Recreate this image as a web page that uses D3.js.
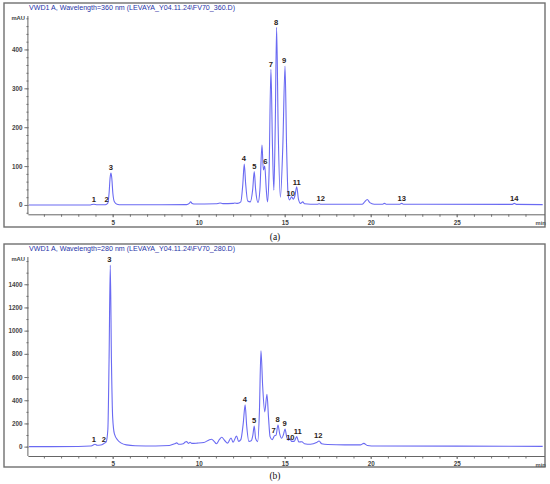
<!DOCTYPE html>
<html>
<head>
<meta charset="utf-8">
<script src="https://cdn.jsdelivr.net/npm/d3@7"></script>
<style>
    body { margin: 0; background: #fff; }
    svg { display: block; font-family: "Liberation Sans", Arial, sans-serif; }
</style>
</head>
<body>
<svg id="chart" width="550" height="484"></svg>
<script>
// chromatogram at 360 nm, [min, mAU]
var traceA = [
    [0, 0], [3.7, 0], [3.9, 2], [4.1, 0.5], [4.5, 0.5], [4.65, 2], [4.72, 5], [4.79, 30],
    [4.85, 70], [4.9, 82], [4.95, 68], [5.01, 30], [5.1, 8], [5.25, 2], [5.5, 0.5],
    [9.3, 1], [9.45, 4], [9.53, 8], [9.62, 4], [9.8, 2.5], [11.0, 3], [11.24, 5], [11.4, 3.5],
    [12.0, 4], [12.1, 5], [12.25, 4], [12.45, 8], [12.56, 50], [12.65, 105], [12.73, 55],
    [12.85, 10], [13.0, 8], [13.14, 40], [13.23, 86], [13.31, 40], [13.45, 6], [13.56, 40],
    [13.68, 154], [13.76, 90], [13.84, 100], [13.93, 40], [14.0, 8], [14.09, 80], [14.2, 349],
    [14.29, 150], [14.37, 38], [14.45, 200], [14.53, 457], [14.62, 200], [14.75, 20],
    [14.89, 150], [15.02, 357], [15.11, 150], [15.2, 25], [15.28, 13], [15.4, 21], [15.5, 15],
    [15.6, 25], [15.7, 47], [15.8, 15], [15.92, 4], [16.05, 8], [16.15, 3], [16.5, 2],
    [16.9, 2], [17.0, 3], [17.1, 2], [19.5, 2], [19.65, 8], [19.8, 14], [19.95, 6], [20.2, 2],
    [20.7, 2], [20.8, 4], [20.9, 2], [21.7, 2], [21.8, 4], [21.9, 2], [28.2, 1.5], [28.35, 4],
    [28.5, 1.5], [30, 1]
];
// peak number, min, mAU where the label sits
var peaksA = [
    ["1", 3.9, 7], ["2", 4.65, 7], ["3", 4.9, 90], ["4", 12.63, 112], ["5", 13.23, 92],
    ["6", 13.87, 106], ["7", 14.2, 356], ["8", 14.5, 462], ["9", 14.96, 365],
    ["10", 15.35, 24], ["11", 15.7, 52], ["12", 17.09, 9.5], ["13", 21.8, 9.5], ["14", 28.35, 9.5]
];

// chromatogram at 280 nm
var traceB = [
    [0, 0], [3.0, 1], [3.7, 5], [3.85, 12], [3.97, 20], [4.1, 12], [4.3, 14], [4.5, 28],
    [4.62, 40], [4.72, 150], [4.79, 750], [4.86, 1566], [4.93, 720], [5.0, 250], [5.1, 110],
    [5.3, 55], [5.5, 30], [5.8, 15], [6.3, 8], [7.5, 6], [8.3, 10], [8.6, 25], [8.72, 32],
    [8.85, 20], [9.1, 25], [9.22, 40], [9.3, 43], [9.4, 28], [9.5, 38], [9.6, 28], [9.9, 30],
    [10.3, 35], [10.6, 58], [10.75, 64], [10.9, 45], [11.03, 25], [11.2, 60], [11.34, 81],
    [11.5, 55], [11.68, 30], [11.88, 75], [12.0, 38], [12.2, 92], [12.32, 45], [12.45, 60],
    [12.59, 200], [12.7, 360], [12.79, 180], [12.92, 45], [13.05, 50], [13.15, 100],
    [13.23, 178], [13.31, 70], [13.43, 43], [13.53, 300], [13.62, 827], [13.72, 520],
    [13.84, 300], [13.97, 452], [14.06, 250], [14.15, 86], [14.27, 60], [14.4, 92],
    [14.5, 100], [14.61, 187], [14.71, 110], [14.82, 72], [14.92, 100], [15.02, 152],
    [15.12, 80], [15.22, 55], [15.3, 70], [15.4, 45], [15.55, 45], [15.7, 86], [15.82, 40],
    [16.0, 42], [16.15, 25], [16.5, 20], [16.85, 35], [17.0, 49], [17.15, 25], [17.5, 18],
    [18.5, 15], [19.4, 15], [19.6, 28], [19.8, 10], [20.3, 5], [25, 4], [30, 2]
];
var peaksB = [
    ["1", 3.91, 40], ["2", 4.49, 40], ["3", 4.8, 1592], ["4", 12.69, 385], ["5", 13.22, 204],
    ["7", 14.36, 118], ["8", 14.59, 215], ["9", 15.0, 181], ["10", 15.33, 55],
    ["11", 15.76, 112], ["12", 16.95, 72]
];

var xMajor = [5, 10, 15, 20, 25];
var xMinor = d3.range(1, 30);
var yMajorA = [0, 100, 200, 300, 400];
var yMinorA = d3.range(-20, 481, 20);
var yMajorB = [0, 200, 400, 600, 800, 1000, 1200, 1400];
var yMinorB = d3.range(0, 1601, 100);

var svg = d3.select("#chart");

function Panel(o) {
    var x = d3.scaleLinear().domain([0.1, 30]).range([28.4, 542.7]),
        y = d3.scaleLinear().domain(o.yDomain).range(o.yRange),
        bottom = o.yRange[0],
        top = o.yRange[1];

    var g = svg.append("g");

    // frame
    g.append("rect")
        .attr("x", 4).attr("y", o.frameY)
        .attr("width", 541).attr("height", o.frameH)
        .attr("fill", "none")
        .attr("stroke", "#707070")
        .attr("stroke-width", 1.4);

    g.append("text")
        .attr("x", 29).attr("y", o.frameY + 6.5)
        .attr("font-size", 7.1)
        .attr("fill", "#1f35a8")
        .text(o.title);

    // x axis
    g.append("g")
        .attr("transform", "translate(0," + bottom + ")")
        .call(d3.axisBottom(x).tickValues(xMinor).tickSize(2.5).tickSizeOuter(0).tickFormat(""))
        .call(function (s) { s.select(".domain").remove(); });
    var xa = g.append("g")
        .attr("transform", "translate(0," + bottom + ")")
        .call(d3.axisBottom(x).tickValues(xMajor).tickSize(3).tickSizeOuter(0).tickPadding(3).tickFormat(d3.format("d")));
    xa.selectAll("text").attr("font-size", 6.3).attr("font-weight", "bold").attr("fill", "#444").attr("font-family", null);
    xa.select(".domain").attr("d", "M28.4,0.5H545");

    g.append("text")
        .attr("x", 535.5).attr("y", bottom + 10.5)
        .attr("font-size", 5.8)
        .attr("font-weight", "bold")
        .attr("fill", "#555")
        .text("min");

    // y axis
    g.append("g")
        .attr("transform", "translate(28.4,0)")
        .call(d3.axisLeft(y).tickValues(o.yMinor).tickSize(2).tickSizeOuter(0).tickFormat(""))
        .call(function (s) { s.select(".domain").remove(); });
    var ya = g.append("g")
        .attr("transform", "translate(28.4,0)")
        .call(d3.axisLeft(y).tickValues(o.yMajor).tickSize(4).tickSizeOuter(0).tickPadding(2).tickFormat(d3.format("d")));
    ya.selectAll("text").attr("font-size", 6.3).attr("font-weight", "bold").attr("fill", "#444").attr("font-family", null);
    ya.select(".domain").attr("d", "M-0.5," + top + "V" + bottom);
    g.selectAll(".tick line").attr("stroke", "#777");
    g.selectAll(".domain").attr("stroke", "#666");

    g.append("text")
        .attr("x", 25).attr("y", top + 4)
        .attr("text-anchor", "end")
        .attr("font-size", 5.8)
        .attr("font-weight", "bold")
        .attr("fill", "#444")
        .text("mAU");

    // trace
    var clipId = "clip" + o.frameY;
    g.append("clipPath").attr("id", clipId)
        .append("rect")
        .attr("x", 29).attr("y", top - 6)
        .attr("width", 515).attr("height", bottom - top + 5);

    var line = d3.line()
        .x(function (d) { return x(d[0]); })
        .y(function (d) { return y(d[1]); })
        .curve(d3.curveMonotoneX);

    g.append("path")
        .datum(o.trace)
        .attr("clip-path", "url(#" + clipId + ")")
        .attr("d", line)
        .attr("fill", "none")
        .attr("stroke", "#6a6af2")
        .attr("stroke-width", 1.1)
        .attr("stroke-linejoin", "round");

    // peak numbers
    g.selectAll("text.peak")
        .data(o.peaks).enter()
        .append("text")
        .attr("class", "peak")
        .attr("x", function (d) { return x(d[1]); })
        .attr("y", function (d) { return y(d[2]); })
        .attr("text-anchor", "middle")
        .attr("font-size", 7.6)
        .attr("font-weight", "bold")
        .attr("fill", "#2a2218")
        .text(function (d) { return d[0]; });

    svg.append("text")
        .attr("x", 275).attr("y", o.captionY)
        .attr("text-anchor", "middle")
        .attr("font-family", "Liberation Serif, serif")
        .attr("font-size", 9.5)
        .attr("fill", "#111")
        .text(o.caption);
}

Panel({
    frameY: 3, frameH: 224,
    title: "VWD1 A, Wavelength=360 nm (LEVAYA_Y04.11.24\\FV70_360.D)",
    yDomain: [-24, 486], yRange: [214.3, 16],
    yMajor: yMajorA, yMinor: yMinorA,
    trace: traceA, peaks: peaksA,
    caption: "(a)", captionY: 240
});

Panel({
    frameY: 244, frameH: 223,
    title: "VWD1 A, Wavelength=280 nm (LEVAYA_Y04.11.24\\FV70_280.D)",
    yDomain: [-80.8, 1635], yRange: [456, 257],
    yMajor: yMajorB, yMinor: yMinorB,
    trace: traceB, peaks: peaksB,
    caption: "(b)", captionY: 479
});
</script>
</body>
</html>
